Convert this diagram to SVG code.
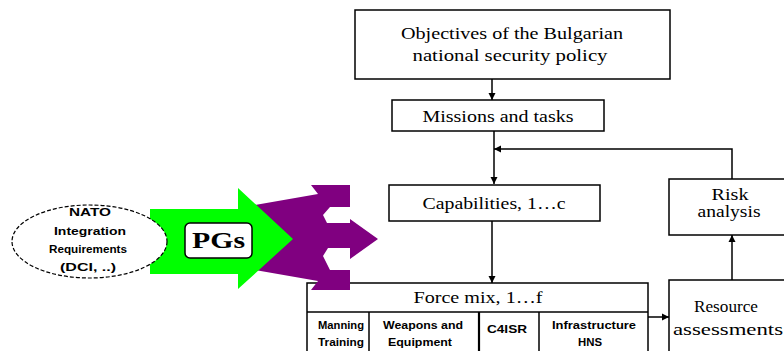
<svg xmlns="http://www.w3.org/2000/svg" width="784" height="351" viewBox="0 0 784 351">
<style>
.box{fill:#fff;stroke:#000;stroke-width:1.5}
.ln{fill:none;stroke:#000;stroke-width:1.5}
.t{font-family:"Liberation Serif",serif;font-size:16px;fill:#000;text-anchor:middle}
.s{font-family:"Liberation Sans",Arial,sans-serif;font-size:11px;font-weight:bold;fill:#000;text-anchor:middle}
</style>
<defs>
<marker id="ah" markerWidth="8" markerHeight="8" refX="7" refY="4" orient="auto" markerUnits="userSpaceOnUse">
<path d="M0,0.5 L7,4 L0,7.5 Z" fill="#000"/>
</marker>
</defs>
<rect width="784" height="351" fill="#fff"/>

<g id="objectives">
<rect class="box" x="355" y="10" width="315" height="69"/>
<text class="t" x="512" y="39" textLength="222" lengthAdjust="spacingAndGlyphs">Objectives of the Bulgarian</text>
<text class="t" x="510" y="61" textLength="195" lengthAdjust="spacingAndGlyphs">national security policy</text>
</g>

<g id="missions">
<rect class="box" x="392" y="100" width="212" height="31"/>
<text class="t" x="498" y="122" textLength="151" lengthAdjust="spacingAndGlyphs">Missions and tasks</text>
</g>

<g id="capabilities">
<rect class="box" x="389" y="185" width="211" height="36"/>
<text class="t" x="494" y="209" textLength="143" lengthAdjust="spacingAndGlyphs">Capabilities, 1…c</text>
</g>

<g id="risk">
<rect class="box" x="669" y="179" width="125" height="56"/>
<text class="t" x="730" y="200" textLength="37" lengthAdjust="spacingAndGlyphs">Risk</text>
<text class="t" x="729" y="217" textLength="63" lengthAdjust="spacingAndGlyphs">analysis</text>
</g>

<g id="resource">
<rect class="box" x="669" y="280" width="125" height="80"/>
<text class="t" x="726" y="312" textLength="64" lengthAdjust="spacingAndGlyphs">Resource</text>
<text class="t" x="728" y="335" textLength="110" lengthAdjust="spacingAndGlyphs">assessments</text>
</g>

<g id="forcemix">
<rect class="box" x="307" y="283" width="341" height="80"/>
<line class="ln" x1="307" y1="312" x2="648" y2="312"/>
<line class="ln" x1="369" y1="312" x2="369" y2="351"/>
<line class="ln" x1="479" y1="312" x2="479" y2="351" style="stroke-width:2.2"/>
<line class="ln" x1="539" y1="312" x2="539" y2="351"/>
<text class="t" x="478" y="303" textLength="129" lengthAdjust="spacingAndGlyphs">Force mix, 1…f</text>
<text class="s" x="341" y="329" textLength="46" lengthAdjust="spacingAndGlyphs">Manning</text>
<text class="s" x="341" y="346" textLength="46" lengthAdjust="spacingAndGlyphs">Training</text>
<text class="s" x="423" y="329" textLength="80" lengthAdjust="spacingAndGlyphs">Weapons and</text>
<text class="s" x="420" y="346" textLength="64" lengthAdjust="spacingAndGlyphs">Equipment</text>
<text class="s" x="507" y="332.5" textLength="40" lengthAdjust="spacingAndGlyphs">C4ISR</text>
<text class="s" x="594" y="329" textLength="84" lengthAdjust="spacingAndGlyphs">Infrastructure</text>
<text class="s" x="590" y="346" textLength="24" lengthAdjust="spacingAndGlyphs">HNS</text>
</g>

<g id="pgs-arrows">
<polygon fill="#800080" points="255,205 318,194 311,185 350,185 350,207 330,207 323,215 327,223 350,223 350,219 378,239 350,259 350,248 328,248 323,256 330,270 350,270 350,290 311,290 318,281 255,270"/>
<polygon fill="#00ff00" points="150,209 238,209 238,188 293,239 238,289 238,274 150,274"/>
</g>

<g id="nato">
<ellipse cx="89.5" cy="241.5" rx="77.5" ry="36.5" fill="#fff" stroke="#000" stroke-width="1.2" stroke-dasharray="4,2"/>
<text class="s" x="90" y="216" textLength="42" lengthAdjust="spacingAndGlyphs">NATO</text>
<text class="s" x="90" y="235" textLength="72" lengthAdjust="spacingAndGlyphs">Integration</text>
<text class="s" x="88" y="253" textLength="78" lengthAdjust="spacingAndGlyphs">Requirements</text>
<text class="s" x="88" y="271" textLength="56" lengthAdjust="spacingAndGlyphs">(DCI, ..)</text>
</g>

<g id="pgs">
<rect x="185" y="223" width="67" height="35" rx="5" ry="5" fill="#fff" stroke="#000" stroke-width="1.5"/>
<text x="218.5" y="248" font-family="Liberation Serif,serif" font-size="23" font-weight="bold" text-anchor="middle" textLength="53" lengthAdjust="spacingAndGlyphs">PGs</text>
</g>

<g id="connectors">
<line class="ln" x1="492" y1="79" x2="492" y2="100" marker-end="url(#ah)"/>
<line class="ln" x1="494" y1="131" x2="494" y2="184" marker-end="url(#ah)"/>
<polyline class="ln" points="732,179 732,149 494,149" marker-end="url(#ah)"/>
<line class="ln" x1="492" y1="221" x2="492" y2="283" marker-end="url(#ah)"/>
<line class="ln" x1="648" y1="317" x2="669" y2="317" marker-end="url(#ah)"/>
<line class="ln" x1="732" y1="280" x2="732" y2="235" marker-end="url(#ah)"/>
</g>
</svg>
